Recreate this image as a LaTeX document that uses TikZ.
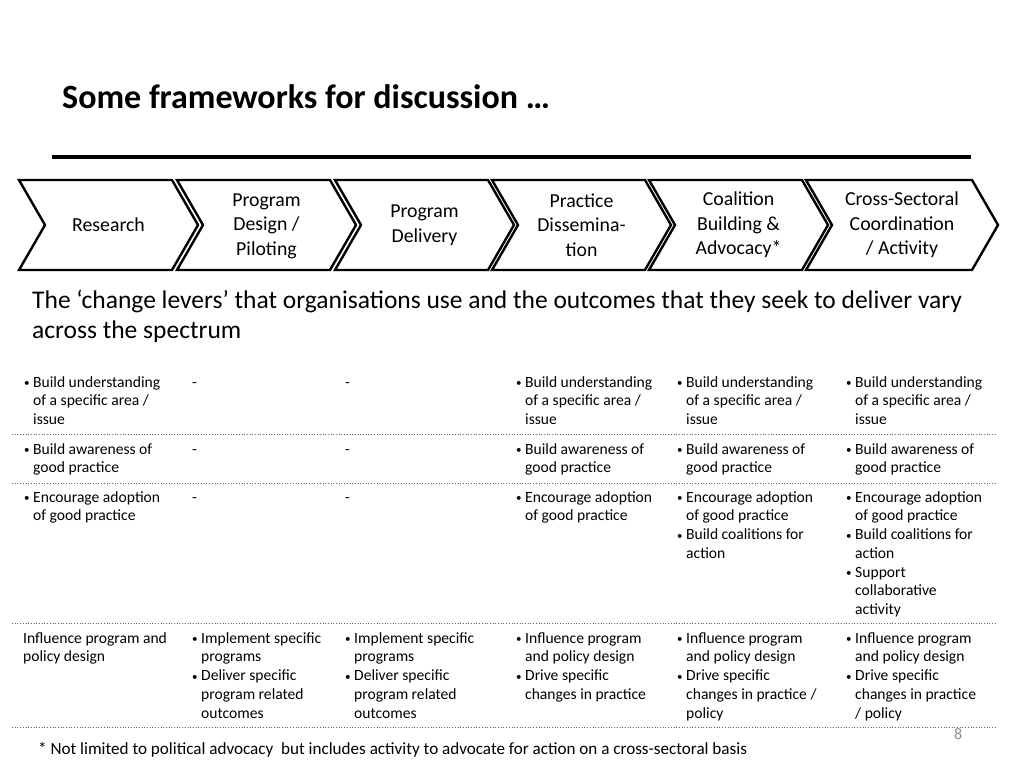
\documentclass[tikz,border=0pt]{standalone}
\usepackage{fontspec}
\setmainfont{Carlito}
\newcommand{\bu}{\makebox[9pt][l]{\raisebox{0.5pt}{\fontsize{11}{11}\selectfont •}}}
\newcommand{\ind}{\hspace*{9pt}}
\newcommand{\tp}{\rule{0pt}{14pt}}
\begin{document}
\begin{tikzpicture}[x=1pt,y=-1pt,
  chev/.style={draw=black,line width=2.4pt,line join=miter,fill=white},
  chevtxt/.style={align=center,font=\fontsize{19.8}{24.5}\selectfont,inner sep=0pt},
  cell/.style={anchor=north west,align=left,inner sep=0pt,font=\fontsize{15.6}{18.7}\selectfont},
  rowline/.style={draw=black!60,line width=0.7pt,dotted}]
\fill[white] (0,0) rectangle (1024,768);
\useasboundingbox (0,0) rectangle (1024,768);
% title
\node[anchor=base west,inner sep=0pt] (title) at (62,108) {\bfseries\fontsize{34}{40}\selectfont Some frameworks for discussion …};
\draw[line width=3.2pt] (52,157) -- (971,157);
% chevrons
\foreach \L/\R in {19/172,177/330,335/488,492/645,649/802,806/972}{
  \draw[chev] (\L,180) -- (\R,180) -- (\R+26,225) -- (\R,270) -- (\L,270) -- (\L+26,225) -- cycle;
}
\node[chevtxt] (c1) at (108.5,225) {Research};
\node[chevtxt] (c2) at (266.5,226) {Program\\Design /\\Piloting};
\node[chevtxt] (c3) at (424.5,225) {Program\\Delivery};
\node[chevtxt] (c4) at (581.5,225) {Practice\\Dissemina-\\tion};
\node[chevtxt] (c5) at (738.5,225) {Coalition\\Building \&\\Advocacy*};
\node[chevtxt] (c6) at (902,225) {Cross-Sectoral\\Coordination\\/ Activity};
% paragraph
\node[anchor=north west,align=left,inner sep=0pt,font=\fontsize{25.5}{30}\selectfont] (para) at (32,283)
  {\rule{0pt}{25pt}The ‘change levers’ that organisations use and the outcomes that they seek to deliver vary\\across the spectrum};
% row 1
\node[cell] (r1a) at (24,373) {\tp\bu Build understanding\\\ind of a specific area /\\\ind issue};
\node[cell] (r1b) at (192,373) {\tp -};
\node[cell] (r1c) at (345,373) {\tp -};
\node[cell] (r1d) at (516,373) {\tp\bu Build understanding\\\ind of a specific area /\\\ind issue};
\node[cell] (r1e) at (677,373) {\tp\bu Build understanding\\\ind of a specific area /\\\ind issue};
\node[cell] (r1f) at (846,373) {\tp\bu Build understanding\\\ind of a specific area /\\\ind issue};
\draw[rowline] (12,434) -- (996,434);
% row 2
\node[cell] (r2a) at (24,440) {\tp\bu Build awareness of\\\ind good practice};
\node[cell] (r2b) at (192,440) {\tp -};
\node[cell] (r2c) at (345,440) {\tp -};
\node[cell] (r2d) at (516,440) {\tp\bu Build awareness of\\\ind good practice};
\node[cell] (r2e) at (677,440) {\tp\bu Build awareness of\\\ind good practice};
\node[cell] (r2f) at (846,440) {\tp\bu Build awareness of\\\ind good practice};
\draw[rowline] (12,483) -- (996,483);
% row 3
\node[cell] (r3a) at (24,488) {\tp\bu Encourage adoption\\\ind of good practice};
\node[cell] (r3b) at (192,488) {\tp -};
\node[cell] (r3c) at (345,488) {\tp -};
\node[cell] (r3d) at (516,488) {\tp\bu Encourage adoption\\\ind of good practice};
\node[cell] (r3e) at (677,488) {\tp\bu Encourage adoption\\\ind of good practice\\\bu Build coalitions for\\\ind action};
\node[cell] (r3f) at (846,488) {\tp\bu Encourage adoption\\\ind of good practice\\\bu Build coalitions for\\\ind action\\\bu Support\\\ind collaborative\\\ind activity};
\draw[rowline] (12,623) -- (996,623);
% row 4
\node[cell] (r4a) at (23,629) {\tp Influence program and\\policy design};
\node[cell] (r4b) at (192,629) {\tp\bu Implement specific\\\ind programs\\\bu Deliver specific\\\ind program related\\\ind outcomes};
\node[cell] (r4c) at (345,629) {\tp\bu Implement specific\\\ind programs\\\bu Deliver specific\\\ind program related\\\ind outcomes};
\node[cell] (r4d) at (516,629) {\tp\bu Influence program\\\ind and policy design\\\bu Drive specific\\\ind changes in practice};
\node[cell] (r4e) at (677,629) {\tp\bu Influence program\\\ind and policy design\\\bu Drive specific\\\ind changes in practice /\\\ind policy};
\node[cell] (r4f) at (846,629) {\tp\bu Influence program\\\ind and policy design\\\bu Drive specific\\\ind changes in practice\\\ind / policy};
\draw[rowline] (12,727) -- (996,727);
% page number and footnote
\node[anchor=base west,inner sep=0pt,text=black!45,font=\fontsize{16}{18}\selectfont] (pg) at (954,739) {8};
\node[anchor=base west,inner sep=0pt,font=\fontsize{17.1}{20}\selectfont] (foot) at (38,754)
  {* Not limited to political advocacy\ \ but includes activity to advocate for action on a cross-sectoral basis};
\end{tikzpicture}
\end{document}
